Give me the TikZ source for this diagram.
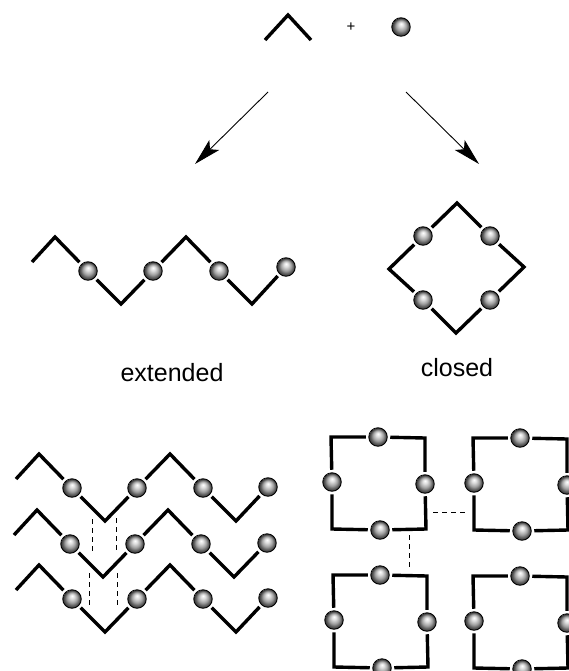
\documentclass[tikz,border=0pt]{standalone}
\usepackage{fontspec}
\setmainfont{Liberation Sans}
\usetikzlibrary{arrows.meta}
\pgfdeclareradialshading{ballgrey}{\pgfpoint{0bp}{9bp}}{color(0bp)=(white); color(6bp)=(gray!25); color(14bp)=(gray!75); color(20bp)=(black!65); color(25bp)=(black!80)}

\begin{document}
\begin{tikzpicture}[x=1pt,y=-1pt,
		ballnode/.style={circle, draw=black, line width=0.9pt, shading=ballgrey, minimum size=18.5pt, inner sep=0pt, outer sep=3pt},
		backbone/.style={draw=black, line width=3.4pt, line join=miter},
		bondline/.style={draw=black, line width=0.9pt, dash pattern=on 5pt off 4pt},
		reactarrow/.style={draw=black, line width=0.9pt, -{Stealth[length=27pt,width=14pt,inset=6pt]}},
		caption/.style={font=\fontsize{25}{30}\selectfont},
	]
	\useasboundingbox (0,0) rectangle (568,671);

	%Reactants
	\coordinate (u1) at (265,40);
	\coordinate (u2) at (288,15);
	\coordinate (u3) at (311,40);
	\node (plus) at (351,27) {\fontsize{15}{15}\selectfont +};
	\node[ballnode] (m0) at (401,27) {};
	\draw[backbone] (u1) -- (u2) -- (u3);

	%Arrows
	\coordinate (al1) at (268,92);
	\coordinate (al2) at (195,164);
	\coordinate (ar1) at (406,92);
	\coordinate (ar2) at (479,164);
	\draw[reactarrow] (al1) -- (al2);
	\draw[reactarrow] (ar1) -- (ar2);

	%Chains
	\foreach \cname/\cx/\cy/\lastx/\lasty in {e/32/262/254/5, r1/16/479/252/8, r2/14/535/253/8, r3/16/590/252/8}{
		\begin{scope}[shift={(\cx,\cy)}]
			\coordinate (\cname s) at (0,0);
			\coordinate (\cname a1) at (23,-25);
			\node[ballnode] (\cname b1) at (56,9) {};
			\coordinate (\cname v1) at (89,42);
			\node[ballnode] (\cname b2) at (121,9) {};
			\coordinate (\cname a2) at (154,-25);
			\node[ballnode] (\cname b3) at (187,9) {};
			\coordinate (\cname v2) at (220,42);
			\node[ballnode] (\cname b4) at (\lastx,\lasty) {};
			\draw[backbone] (\cname s) -- (\cname a1) -- (\cname b1);
			\draw[backbone] (\cname b1) -- (\cname v1) -- (\cname b2);
			\draw[backbone] (\cname b2) -- (\cname a2) -- (\cname b3);
			\draw[backbone] (\cname b3) -- (\cname v2) -- (\cname b4);
		\end{scope}
	}

	%Closed ring
	\coordinate (ct) at (457,203);
	\coordinate (cl) at (389,269);
	\coordinate (cr) at (524,267);
	\coordinate (cb) at (456,333);
	\node[ballnode] (c1) at (423,236) {};
	\node[ballnode] (c2) at (490,236) {};
	\node[ballnode] (c3) at (423,300) {};
	\node[ballnode] (c4) at (490,300) {};
	\draw[backbone] (c1) -- (ct) -- (c2);
	\draw[backbone] (c2) -- (cr) -- (c4);
	\draw[backbone] (c4) -- (cb) -- (c3);
	\draw[backbone] (c3) -- (cl) -- (c1);

	%Labels
	\node[caption] (ext) at (172,373) {extended};
	\node[caption] (clo) at (457,368) {closed};

	%Squares
	\foreach \sname/\sx/\sy in {p/331/437, q/473/438, t/333/575, w/473/576}{
		\begin{scope}[shift={(\sx,\sy)}]
			\coordinate (\sname tl) at (0,0);
			\coordinate (\sname tr) at (94,1);
			\coordinate (\sname bl) at (1,92);
			\coordinate (\sname br) at (95,92);
			\node[ballnode] (\sname n) at (47,0) {};
			\node[ballnode] (\sname w) at (1,45) {};
			\node[ballnode] (\sname e) at (94,47) {};
			\node[ballnode] (\sname s) at (49,93) {};
			\draw[backbone] (\sname w) -- (\sname tl) -- (\sname n);
			\draw[backbone] (\sname n) -- (\sname tr) -- (\sname e);
			\draw[backbone] (\sname e) -- (\sname br) -- (\sname s);
			\draw[backbone] (\sname s) -- (\sname bl) -- (\sname w);
		\end{scope}
	}

	%Dashed bonds
	\coordinate (d1) at (92,519);
	\coordinate (d2) at (92,552);
	\coordinate (d3) at (116,518);
	\coordinate (d4) at (116,551);
	\coordinate (d5) at (89,573);
	\coordinate (d6) at (89,606);
	\coordinate (d7) at (117,573);
	\coordinate (d8) at (117,607);
	\coordinate (d9) at (433,512);
	\coordinate (d10) at (467,512);
	\coordinate (d11) at (409,535);
	\coordinate (d12) at (409,569);
	\draw[bondline] (d1) -- (d2);
	\draw[bondline] (d3) -- (d4);
	\draw[bondline] (d5) -- (d6);
	\draw[bondline] (d7) -- (d8);
	\draw[bondline] (d9) -- (d10);
	\draw[bondline] (d11) -- (d12);

\end{tikzpicture}
\end{document}
